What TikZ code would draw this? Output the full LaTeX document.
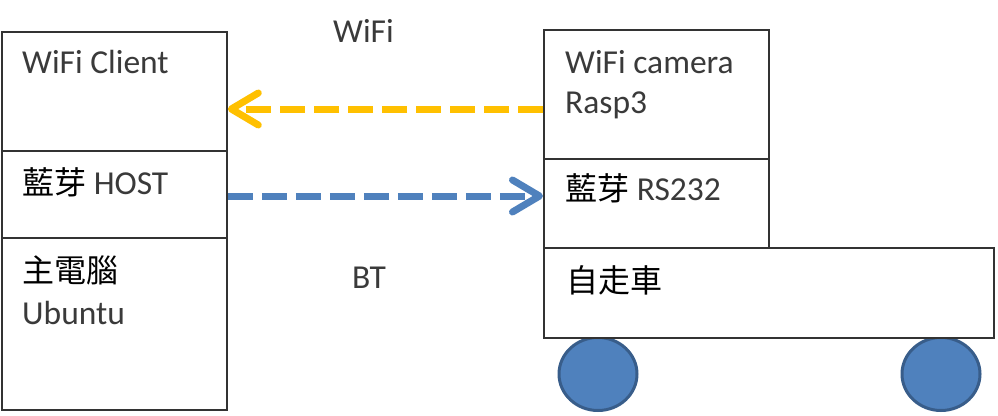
\documentclass[tikz,border=0pt]{standalone}
\usepackage{fontspec}
\setmainfont{Carlito}
\newfontfamily\cjk{Noto Sans CJK TC}
\usetikzlibrary{arrows.meta,shapes.geometric}
\definecolor{wifiyellow}{HTML}{FFC000}
\definecolor{btblue}{HTML}{4F81BD}
\definecolor{wheelfill}{HTML}{4F81BD}
\definecolor{wheeledge}{HTML}{385D8A}
\definecolor{txtgray}{HTML}{3A3A3A}
\begin{document}
\begin{tikzpicture}[x=1pt,y=-1pt,
  box/.style={draw=black!80, line width=1.8pt, fill=white, inner sep=0pt, anchor=north west},
  wheel/.style={ellipse, draw=wheeledge, line width=3pt, fill=wheelfill, inner sep=0pt, minimum width=78pt, minimum height=73pt},
  lbl/.style={anchor=base west, inner sep=0pt, text=txtgray, font=\fontsize{33.5}{40}\selectfont},
  cj/.style={font=\fontsize{32}{38}\selectfont\cjk},
  link/.style={line width=7pt, dash pattern=on 25pt off 9pt,
    -{Straight Barb[length=27pt,width=32pt,line cap=round,line join=round]}}
]
\useasboundingbox (0,0) rectangle (998,415);
% left column
\node[box, minimum width=225pt, minimum height=119pt] (wclient) at (1,31) {};
\node[box, minimum width=225pt, minimum height=87pt] (host) at (1,150) {};
\node[box, minimum width=225pt, minimum height=172pt] (main) at (1,237) {};
% wheels
\node[wheel] (wheel1) at (598,374) {};
\node[wheel] (wheel2) at (941,374) {};
% right column
\node[box, minimum width=225pt, minimum height=129pt] (cam) at (543,29) {};
\node[box, minimum width=225pt, minimum height=89pt] (rs) at (543,158) {};
\node[box, minimum width=450pt, minimum height=90pt] (car) at (543,247) {};
% texts
\node[lbl] (t1) at (22,73) {WiFi Client};
\node[lbl] (t2) at (22,194) {{\fontsize{32}{38}\selectfont\cjk\color{black}藍芽} HOST};
\node[lbl] (t3) at (22,282) {{\fontsize{32}{38}\selectfont\cjk\color{black}主電腦}};
\node[lbl] (t4) at (22,324) {Ubuntu};
\node[lbl] (t5) at (565,73) {WiFi camera};
\node[lbl] (t6) at (565,113) {Rasp3};
\node[lbl] (t7) at (565,200) {{\fontsize{32}{38}\selectfont\cjk\color{black}藍芽} RS232};
\node[lbl] (t8) at (566,292) {{\fontsize{32}{38}\selectfont\cjk\color{black}自走車}};
\node[lbl] (t9) at (333,42) {WiFi};
\node[lbl] (t10) at (352,288) {BT};
% connectors
\coordinate (wy) at (0,109);
\coordinate (by) at (0,196);
\draw[link, draw=wifiyellow] (cam.west |- wy) -- (wclient.east |- wy);
\draw[link, draw=btblue] (host.east |- by) -- (rs.west |- by);
\end{tikzpicture}
\end{document}
